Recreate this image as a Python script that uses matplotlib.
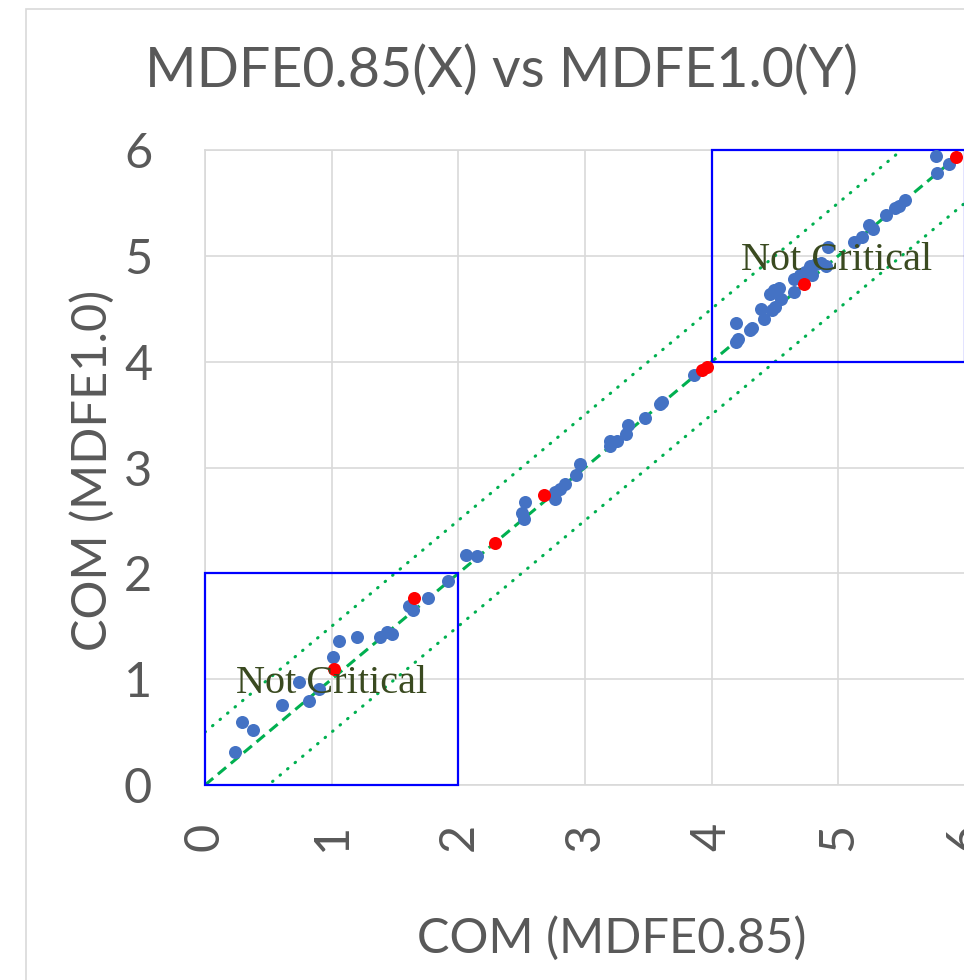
import matplotlib.pyplot as plt
from matplotlib.patches import Rectangle

# COM values: MDFE0.85 on x, MDFE1.0 on y
blue_x = [0.24, 0.29, 0.38, 0.61, 0.74, 0.82, 0.90, 1.01, 1.06, 1.20, 1.38, 1.44, 1.48,
          1.61, 1.64, 1.76, 1.92, 2.06, 2.15, 2.50, 2.52, 2.53, 2.76, 2.76, 2.80, 2.84,
          2.93, 2.96, 3.20, 3.20, 3.25, 3.32, 3.34, 3.47, 3.59, 3.61, 3.86, 4.19, 4.21,
          4.19, 4.30, 4.32, 4.41, 4.39, 4.48, 4.50, 4.55, 4.46, 4.53, 4.49, 4.65, 4.65,
          4.70, 4.74, 4.78, 4.79, 4.82, 4.86, 4.90, 4.92, 5.12, 5.19, 5.24, 5.27, 5.38,
          5.45, 5.48, 5.53, 5.78, 5.77, 5.87]
blue_y = [0.31, 0.60, 0.52, 0.76, 0.97, 0.79, 0.91, 1.21, 1.36, 1.40, 1.40, 1.45, 1.43,
          1.69, 1.65, 1.77, 1.93, 2.17, 2.16, 2.57, 2.51, 2.67, 2.70, 2.77, 2.80, 2.84,
          2.93, 3.03, 3.20, 3.25, 3.25, 3.32, 3.40, 3.47, 3.60, 3.62, 3.87, 4.19, 4.21,
          4.37, 4.30, 4.32, 4.40, 4.50, 4.49, 4.52, 4.59, 4.64, 4.70, 4.68, 4.66, 4.78,
          4.82, 4.85, 4.90, 4.82, 4.92, 4.93, 4.90, 5.08, 5.13, 5.18, 5.29, 5.25, 5.39,
          5.45, 5.47, 5.53, 5.78, 5.94, 5.87]
red_x = [1.02, 1.65, 2.29, 2.68, 3.92, 3.96, 4.73, 5.93]
red_y = [1.10, 1.77, 2.29, 2.74, 3.92, 3.95, 4.73, 5.93]

ticks = [0, 1, 2, 3, 4, 5, 6]
band = 0.5
boxes = [(0, 2), (4, 6)]

text_color = '#595959'
grid_color = '#d9d9d9'
green = '#00b050'

plt.rcParams['font.family'] = ['Lato', 'DejaVu Sans']

fig = plt.figure(figsize=(9.64, 9.8), dpi=100)
ax = fig.add_axes([205 / 964, 195 / 980, 760 / 964, 635 / 980])

# outer chart border
fig.add_artist(Rectangle((26 / 964, -0.1), 1.2, 1 - 9 / 980 + 0.1,
                         transform=fig.transFigure, fill=False,
                         edgecolor=grid_color, linewidth=1.2))

ax.set_xlim(0, 6)
ax.set_ylim(0, 6)
ax.set_xticks(ticks)
ax.set_yticks(ticks)
ax.grid(True, color=grid_color, linewidth=1.2)
ax.set_axisbelow(True)
for s in ax.spines.values():
    s.set_color(grid_color)
    s.set_linewidth(1.2)
ax.tick_params(length=0, labelcolor=text_color, labelsize=35)
ax.tick_params(axis='x', labelrotation=90, pad=27)
ax.tick_params(axis='y', pad=38)

# 1:1 line and +/- band
ax.plot(ticks, ticks, color=green, linewidth=2.2, linestyle=(0, (3.5, 2.0)), zorder=2)
ax.plot(ticks, [t + band for t in ticks], color=green, linewidth=2.2,
        linestyle=(0, (0.2, 3.0)), dash_capstyle='round', zorder=2)
ax.plot(ticks, [t - band for t in ticks], color=green, linewidth=2.2,
        linestyle=(0, (0.2, 3.0)), dash_capstyle='round', zorder=2)

for lo, hi in boxes:
    ax.add_patch(Rectangle((lo, lo), hi - lo, hi - lo, fill=False,
                           edgecolor='#0000ff', linewidth=1.6, zorder=3, clip_on=False))

ax.scatter(blue_x, blue_y, s=88, color='#4472c4', linewidths=0, zorder=4, clip_on=False)
ax.scatter(red_x, red_y, s=88, color='#ff0000', linewidths=0, zorder=5, clip_on=False)

ax.text(1.75, 0.87, 'Not Critical', family='Liberation Serif', fontsize=29,
        color='#3a4a20', ha='right', va='baseline', zorder=6)
ax.text(5.74, 4.87, 'Not Critical', family='Liberation Serif', fontsize=29,
        color='#3a4a20', ha='right', va='baseline', zorder=6)

fig.text(501 / 964, 1 - 87 / 980, 'MDFE0.85(X) vs MDFE1.0(Y)', fontsize=40,
         color=text_color, ha='center', va='baseline')
ax.set_xlabel('COM (MDFE0.85)', fontsize=35, color=text_color, va='baseline')
ax.xaxis.set_label_coords((612 - 205) / 760, (785 - 953) / 635)
ax.set_ylabel('COM (MDFE1.0)', fontsize=35, color=text_color, va='center')
ax.yaxis.set_label_coords((92 - 205) / 760, (785 - 470) / 635)

fig.savefig('out.png', dpi=100)
